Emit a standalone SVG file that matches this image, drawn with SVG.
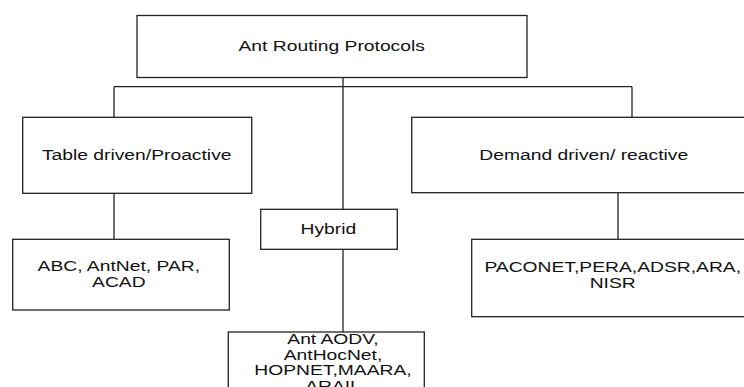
<svg xmlns="http://www.w3.org/2000/svg" width="744" height="387" viewBox="0 0 744 387">
  <style>
    .box { fill: #ffffff; stroke: #222222; stroke-width: 1.3; }
    .conn { fill: none; stroke: #222222; stroke-width: 1.3; }
    .lbl { font-family: "Liberation Sans", Arial, sans-serif; font-size: 14.5px; fill: #111111; text-anchor: middle; }
  </style>
  <rect width="744" height="387" fill="#ffffff"/>
  <g id="connectors">
    <path class="conn" d="M343 77.5 V209.3"/>
    <path class="conn" d="M114 86.7 H632"/>
    <path class="conn" d="M114 86.7 V117.3"/>
    <path class="conn" d="M632 86.7 V117.3"/>
    <path class="conn" d="M114 193.3 V239.3"/>
    <path class="conn" d="M618 192.7 V239.3"/>
    <path class="conn" d="M343 249.3 V332"/>
  </g>
  <g id="root">
    <rect class="box" x="137" y="15.5" width="390" height="62"/>
    <text class="lbl" transform="translate(331.7 50.7) scale(1.33 1)">Ant Routing Protocols</text>
  </g>
  <g id="table-driven">
    <rect class="box" x="22.7" y="117.3" width="229" height="76"/>
    <text class="lbl" transform="translate(136.7 160) scale(1.33 1)">Table driven/Proactive</text>
  </g>
  <g id="demand-driven">
    <rect class="box" x="411.7" y="117.3" width="346" height="75.4"/>
    <text class="lbl" transform="translate(583.7 160) scale(1.33 1)">Demand driven/ reactive</text>
  </g>
  <g id="hybrid">
    <rect class="box" x="260.7" y="209.3" width="136.6" height="40"/>
    <text class="lbl" transform="translate(328.3 234) scale(1.33 1)">Hybrid</text>
  </g>
  <g id="proactive-list">
    <rect class="box" x="12.7" y="239.3" width="216.6" height="70.7"/>
    <text class="lbl" transform="translate(118.8 271) scale(1.33 1)">ABC, AntNet, PAR,</text>
    <text class="lbl" transform="translate(118.8 286.7) scale(1.33 1)">ACAD</text>
  </g>
  <g id="reactive-list">
    <rect class="box" x="471.7" y="239.3" width="290" height="77.4"/>
    <text class="lbl" transform="translate(612.7 272.3) scale(1.33 1)">PACONET,PERA,ADSR,ARA,</text>
    <text class="lbl" transform="translate(612.7 288.3) scale(1.33 1)">NISR</text>
  </g>
  <g id="hybrid-list">
    <rect class="box" x="228.3" y="332" width="196" height="70"/>
    <text class="lbl" transform="translate(333 344) scale(1.33 1)">Ant AODV,</text>
    <text class="lbl" transform="translate(333 359.5) scale(1.33 1)">AntHocNet,</text>
    <text class="lbl" transform="translate(333 375) scale(1.33 1)">HOPNET,MAARA,</text>
    <text class="lbl" transform="translate(333 390.5) scale(1.33 1)">ARAIL</text>
  </g>
</svg>
